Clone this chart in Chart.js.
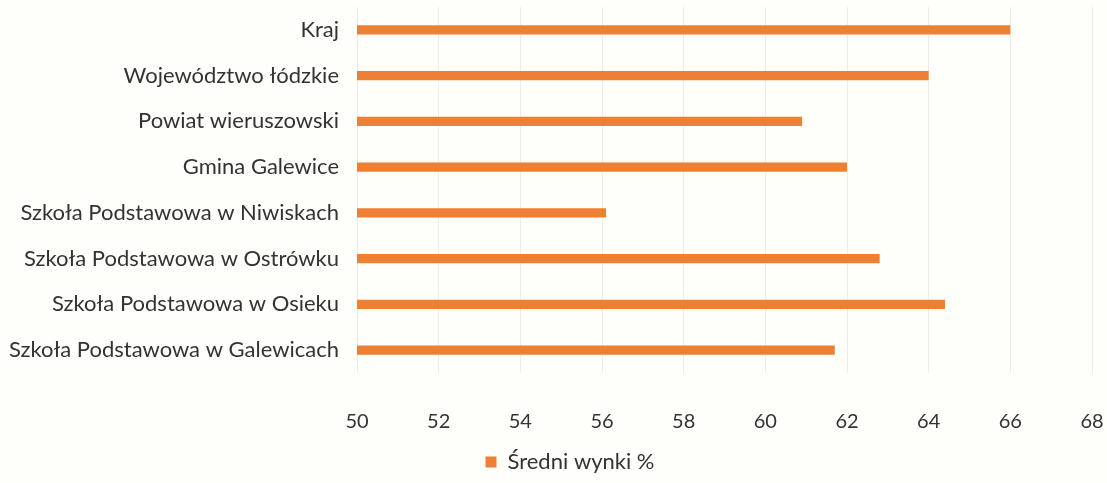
<!DOCTYPE html>
<html lang="pl">
<head>
    <meta charset="UTF-8">
    <title>Średni wynik</title>
    <script src="https://cdn.jsdelivr.net/npm/chart.js"></script>
    <style>
        body {
            margin: 0;
            background-color: #fefefb;
        }
        .chart-box {
            width: 1107px;
            height: 483px;
        }
    </style>
</head>
<body>
    <div class="chart-box">
        <canvas id="wykres"></canvas>
    </div>

    <script>
        // dane
        const kategorie = [
            'Kraj',
            'Województwo łódzkie',
            'Powiat wieruszowski',
            'Gmina Galewice',
            'Szkoła Podstawowa w Niwiskach',
            'Szkoła Podstawowa w Ostrówku',
            'Szkoła Podstawowa w Osieku',
            'Szkoła Podstawowa w Galewicach'
        ];
        const wyniki = [66.0, 64.0, 60.9, 62.0, 56.1, 62.8, 64.4, 61.7];
        const osMin = 50;
        const osMax = 68;
        const osKrok = 2;

        // legenda w oryginale jest troche przesunieta w prawo
        const przesunLegende = {
            id: 'przesunLegende',
            afterLayout(chart) {
                chart.legend.left += 24;
                chart.legend.right += 24;
            }
        };

        const ctx = document.getElementById('wykres').getContext('2d');

        new Chart(ctx, {
            type: 'bar',
            data: {
                labels: kategorie,
                datasets: [{
                    label: 'Średni wynki %',
                    data: wyniki,
                    backgroundColor: '#ee7f33',
                    borderWidth: 0,
                    barPercentage: 0.2,
                    categoryPercentage: 1.0
                }]
            },
            plugins: [przesunLegende],
            options: {
                indexAxis: 'y',
                responsive: true,
                maintainAspectRatio: false,
                animation: false,
                layout: {
                    padding: { left: 0, right: 15, top: 7, bottom: 0 }
                },
                plugins: {
                    tooltip: { enabled: false },
                    legend: {
                        position: 'bottom',
                        labels: {
                            boxWidth: 11,
                            boxHeight: 11,
                            padding: 4,
                            color: '#333',
                            font: { family: 'Lato', size: 22 }
                        }
                    }
                },
                scales: {
                    x: {
                        min: osMin,
                        max: osMax,
                        afterFit: function (scale) {
                            scale.height = 74;
                        },
                        ticks: {
                            stepSize: osKrok,
                            padding: 0,
                            color: '#333',
                            font: { family: 'Lato', size: 20 }
                        },
                        grid: {
                            color: '#ececec',
                            drawTicks: true,
                            tickLength: 37,
                            tickColor: 'rgba(0,0,0,0)'
                        },
                        border: { display: false }
                    },
                    y: {
                        afterFit: function (scale) {
                            scale.width = 357;
                        },
                        ticks: {
                            padding: 0,
                            color: '#333',
                            font: { family: 'Lato', size: 22, lineHeight: 0.5 }
                        },
                        grid: {
                            display: false,
                            drawTicks: true,
                            tickLength: 18
                        },
                        border: { display: false }
                    }
                }
            }
        });
    </script>
</body>
</html>
